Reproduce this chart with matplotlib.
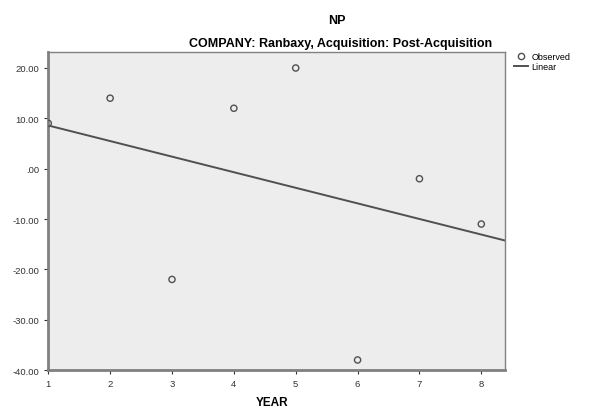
import numpy as np
import matplotlib
matplotlib.use("Agg")
import matplotlib.pyplot as plt
from matplotlib.lines import Line2D
from matplotlib.ticker import FuncFormatter

plt.rcParams['font.family'] = ['Liberation Sans', 'DejaVu Sans']

years = [1, 2, 3, 4, 5, 6, 7, 8]
np_values = [9, 14, -22, 12, 20, -38, -2, -11]
y_ticks = [20, 10, 0, -10, -20, -30, -40]

fig = plt.figure(figsize=(5.96, 4.10), dpi=100)
ax = fig.add_axes([0.081, 0.095, 0.766, 0.776])
ax.set_facecolor('#ecedec')

# linear fit
slope, intercept = np.polyfit(years, np_values, 1)
xs = np.array([1, 8.38])
ax.plot(xs, slope * xs + intercept, color='#505050', lw=1.4, zorder=2)

ax.scatter(years, np_values, s=20, facecolors='none', edgecolors='#505050',
           linewidths=1.0, zorder=3)

ax.set_xlim(1, 8.38)
ax.set_ylim(-40, 23.2)
ax.set_xticks(years)
ax.set_yticks(y_ticks)

def fmt(v, pos):
    s = '%.2f' % v
    if s.startswith('0'):
        s = s[1:]
    return s

ax.yaxis.set_major_formatter(FuncFormatter(fmt))
ax.tick_params(labelsize=6.8, colors='#333333', length=3, width=0.8)

for side in ['left', 'bottom']:
    ax.spines[side].set_color('#808080')
    ax.spines[side].set_linewidth(2)
for side in ['right', 'top']:
    ax.spines[side].set_color('#808080')
    ax.spines[side].set_linewidth(1)

fig.text(0.566, 0.948, 'NP', ha='center', va='center', fontsize=9, fontweight='bold')
fig.text(0.571, 0.893, 'COMPANY: Ranbaxy, Acquisition: Post-Acquisition',
         ha='center', va='center', fontsize=9, fontweight='bold')
fig.text(0.457, 0.018, 'YEAR', ha='center', va='center', fontsize=8.5, fontweight='bold')

handles = [Line2D([], [], marker='o', ls='none', markerfacecolor='none',
                  markeredgecolor='#505050', markersize=4.5),
           Line2D([], [], color='#505050', lw=1.4)]
fig.legend(handles, ['Observed', 'Linear'], loc='upper left',
           bbox_to_anchor=(0.852, 0.885), frameon=False, fontsize=6.5,
           handlelength=1.5, handletextpad=0.4, labelspacing=0.1,
           borderpad=0.2)

fig.savefig('out.png', dpi=100)
